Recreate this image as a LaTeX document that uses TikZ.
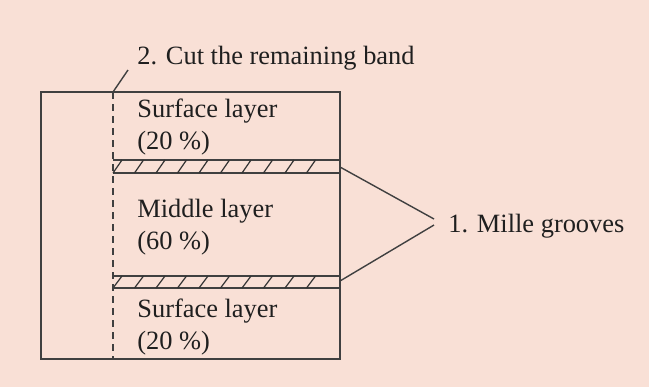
\documentclass[tikz,border=0pt]{standalone}
\usepackage{fontspec}
\setmainfont{Liberation Serif}
\begin{document}
\begin{tikzpicture}[x=0.5pt,y=-0.5pt,
  line/.style={draw=black!75, line width=0.7pt},
  lbl/.style={inner sep=0pt, anchor=base west, text=black!88,
    font=\fontsize{13.2}{16}\selectfont},
  hatch/.style={draw=black!80, line width=0.6pt}]
% background
\fill[fill={rgb,255:red,249;green,224;blue,214}] (0,0) rectangle (649,387);
\useasboundingbox (0,0) rectangle (649,387);

% block outline
\draw[line] (41,92) rectangle (340,359);

% milled grooves
\coordinate (g1tl) at (113,160);
\coordinate (g1br) at (340,173);
\coordinate (g2tl) at (113,276);
\coordinate (g2br) at (340,288);
\draw[line] (g1tl) -- (340,160) (113,173) -- (g1br);
\draw[line] (g2tl) -- (340,276) (113,288) -- (g2br);
\foreach \k in {0,...,9}{
  \draw[hatch] (113+21.5*\k,173) -- (122+21.5*\k,160);
  \draw[hatch] (113+21.5*\k,288) -- (122+21.5*\k,276);
}

% cutting line
\coordinate (cuttop) at (113,92);
\coordinate (cutbot) at (113,359);
\draw[line, dash pattern=on 3.5pt off 2.5pt] (cuttop) -- (cutbot);

% layer labels
\node[lbl] (surf1) at (137,117) {Surface layer};
\node[lbl] (surf1p) at (137,149) {(20 \%)};
\node[lbl] (mid) at (137,217) {Middle layer};
\node[lbl] (midp) at (137,249) {(60 \%)};
\node[lbl] (surf2) at (137,317) {Surface layer};
\node[lbl] (surf2p) at (137,349) {(20 \%)};

% callouts
\node[lbl] (cut) at (137,64) {2. Cut the remaining band};
\coordinate (cutlead) at (128,70);
\draw[line] (cuttop) -- (cutlead);

\node[lbl] (mill) at (448,232) {1. Mille grooves};
\coordinate (millA) at (434,219);
\coordinate (millB) at (434,225);
\coordinate (g1r) at (340,167);
\coordinate (g2r) at (340,281);
\draw[line] (g1r) -- (millA);
\draw[line] (g2r) -- (millB);
\end{tikzpicture}
\end{document}
